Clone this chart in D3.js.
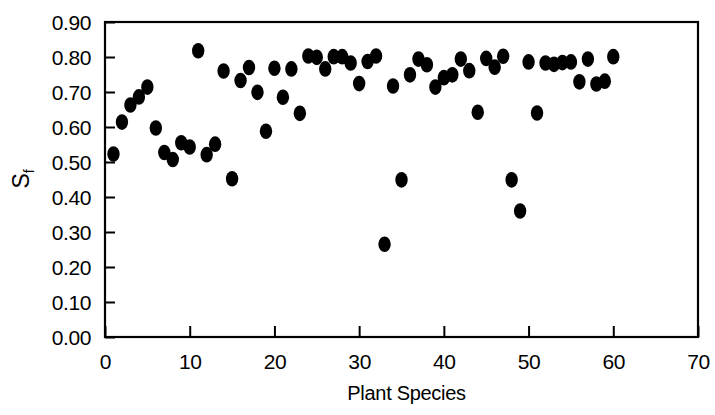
<!DOCTYPE html>
<html>
<head>
<meta charset="utf-8">
<script src="https://cdn.jsdelivr.net/npm/d3@7"></script>
<style>
  body { margin: 0; background: #fff; }
  svg { display: block; font-family: Arial, "Liberation Sans", sans-serif; }
</style>
</head>
<body>
<svg width="715" height="415"></svg>
<script>
// data
var species = d3.range(1, 61);
var sfValues = [
  0.523, 0.614, 0.663, 0.686, 0.714, 0.597, 0.527, 0.507, 0.555, 0.543,
  0.818, 0.521, 0.551, 0.760, 0.452, 0.733, 0.770, 0.699, 0.588, 0.768,
  0.685, 0.766, 0.639, 0.803, 0.799, 0.766, 0.801, 0.801, 0.783, 0.724,
  0.787, 0.803, 0.265, 0.717, 0.449, 0.749, 0.794, 0.778, 0.714, 0.741,
  0.749, 0.794, 0.761, 0.642, 0.796, 0.771, 0.802, 0.449, 0.360, 0.786,
  0.640, 0.783, 0.779, 0.784, 0.786, 0.729, 0.794, 0.723, 0.731, 0.801
];
var xTicks = [0, 10, 20, 30, 40, 50, 60, 70];
var yTicks = [0, 0.1, 0.2, 0.3, 0.4, 0.5, 0.6, 0.7, 0.8, 0.9];

var svg = d3.select("svg");
var plotLeft = 105, plotRight = 698, plotTop = 22, plotBottom = 337;

var x = d3.scaleLinear().domain([0, 70]).range([plotLeft, plotRight]);
var y = d3.scaleLinear().domain([0, 0.9]).range([plotBottom, plotTop]);

// inward ticks, labels pushed outward
var xAxis = svg.append("g")
    .attr("transform", `translate(0,${plotBottom})`)
    .call(d3.axisBottom(x).tickValues(xTicks).tickSizeInner(-11).tickSizeOuter(0).tickFormat(d3.format("d")));
xAxis.selectAll("text")
    .attr("y", 32)
    .attr("dy", 0)
    .attr("font-size", 21)
    .attr("letter-spacing", -0.4)
    .attr("fill", "#000");

var yAxis = svg.append("g")
    .attr("transform", `translate(${plotLeft},0)`)
    .call(d3.axisLeft(y).tickValues(yTicks).tickSizeInner(-10).tickSizeOuter(0).tickFormat(d3.format(".2f")));
yAxis.selectAll("text")
    .attr("x", -14)
    .attr("dy", "0.36em")
    .attr("font-size", 21)
    .attr("letter-spacing", -0.4)
    .attr("fill", "#000");

svg.selectAll(".tick line").attr("stroke", "#000").attr("stroke-width", 2);
svg.selectAll(".domain").remove();

// frame
svg.append("rect")
    .attr("x", plotLeft).attr("y", plotTop)
    .attr("width", plotRight - plotLeft).attr("height", plotBottom - plotTop)
    .attr("fill", "none")
    .attr("stroke", "#000")
    .attr("stroke-width", 2.2);

// points
svg.append("g").selectAll("ellipse")
    .data(species)
    .join("ellipse")
    .attr("cx", (d) => x(d))
    .attr("cy", (d, i) => y(sfValues[i]))
    .attr("rx", 6.2)
    .attr("ry", 7.8)
    .attr("fill", "#000");

// axis titles
svg.append("text")
    .attr("x", (plotLeft + plotRight) / 2 + 5)
    .attr("y", 400)
    .attr("text-anchor", "middle")
    .attr("font-size", 20)
    .attr("letter-spacing", -0.3)
    .text("Plant Species");

var yLabel = svg.append("text")
    .attr("transform", "translate(29,179) rotate(-90)")
    .attr("text-anchor", "middle")
    .attr("font-size", 23);
yLabel.append("tspan").text("S");
yLabel.append("tspan").attr("font-size", 14).attr("dy", 5).text("f");
</script>
</body>
</html>
